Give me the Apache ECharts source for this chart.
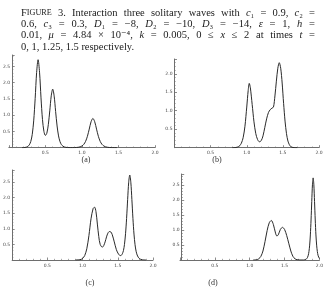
<!DOCTYPE html>
<html>
<head>
  <meta charset="utf-8" />
  <title>Figure 3</title>
  <script src="https://cdn.jsdelivr.net/npm/echarts@6.0.0/dist/echarts.min.js"></script>
  <style>
    html, body { margin: 0; padding: 0; background: #fff; }
  </style>
</head>
<body>
  <div id="main" style="width: 326px;height:300px;"></div>
  <script type="text/javascript">
    // profiles u(x), t = 0, 1, 1.25, 1.5
    var curveA = [[0.18, 0], [0.2, 0.002], [0.22, 0.007], [0.24, 0.018], [0.26, 0.04], [0.28, 0.087], [0.30, 0.191], [0.32, 0.406], [0.34, 0.824], [0.36, 1.509], [0.38, 2.311], [0.40, 2.705], [0.42, 2.322], [0.44, 1.532], [0.46, 0.870], [0.48, 0.499], [0.50, 0.377], [0.52, 0.449], [0.54, 0.708], [0.56, 1.133], [0.58, 1.594], [0.60, 1.80], [0.62, 1.586], [0.64, 1.115], [0.66, 0.668], [0.68, 0.362], [0.70, 0.186], [0.72, 0.093], [0.74, 0.046], [0.76, 0.023], [0.78, 0.011], [0.80, 0.005], [0.84, 0], [0.90, 0.003], [0.95, 0.013], [0.975, 0.026], [1.0, 0.052], [1.025, 0.102], [1.05, 0.194], [1.075, 0.35], [1.1, 0.571], [1.125, 0.798], [1.15, 0.9], [1.175, 0.798], [1.2, 0.571], [1.225, 0.35], [1.25, 0.194], [1.275, 0.102], [1.3, 0.052], [1.325, 0.026], [1.35, 0.013], [1.4, 0.003], [1.48, 0]];
    var curveB = [[0.80, 0], [0.85, 0.005], [0.875, 0.02], [0.90, 0.05], [0.925, 0.12], [0.95, 0.27], [0.975, 0.58], [1.00, 1.10], [1.02, 1.55], [1.035, 1.74], [1.05, 1.62], [1.075, 1.17], [1.10, 0.70], [1.125, 0.38], [1.15, 0.22], [1.175, 0.16], [1.20, 0.19], [1.225, 0.32], [1.25, 0.55], [1.275, 0.78], [1.30, 0.95], [1.325, 1.03], [1.35, 1.07], [1.37, 1.10], [1.39, 1.40], [1.41, 1.80], [1.43, 2.15], [1.45, 2.30], [1.47, 2.15], [1.49, 1.75], [1.51, 1.20], [1.53, 0.72], [1.55, 0.38], [1.57, 0.18], [1.59, 0.08], [1.61, 0.03], [1.64, 0.005], [1.70, 0]];
    var curveC = [[0.90, 0], [0.95, 0.005], [0.98, 0.02], [1.00, 0.05], [1.03, 0.14], [1.06, 0.36], [1.09, 0.78], [1.12, 1.32], [1.15, 1.65], [1.17, 1.69], [1.19, 1.55], [1.21, 1.15], [1.23, 0.75], [1.25, 0.50], [1.28, 0.41], [1.30, 0.46], [1.32, 0.58], [1.34, 0.74], [1.36, 0.86], [1.38, 0.91], [1.40, 0.90], [1.42, 0.82], [1.45, 0.58], [1.48, 0.33], [1.51, 0.19], [1.535, 0.14], [1.55, 0.15], [1.565, 0.20], [1.58, 0.30], [1.595, 0.50], [1.61, 0.84], [1.625, 1.33], [1.64, 1.94], [1.655, 2.49], [1.67, 2.72], [1.685, 2.49], [1.70, 1.94], [1.715, 1.33], [1.73, 0.83], [1.745, 0.49], [1.76, 0.28], [1.775, 0.16], [1.79, 0.09], [1.805, 0.05], [1.82, 0.027], [1.85, 0.008], [1.90, 0]];
    var curveD = [[1.05, 0], [1.10, 0.01], [1.13, 0.04], [1.16, 0.12], [1.19, 0.30], [1.22, 0.62], [1.25, 0.98], [1.28, 1.24], [1.31, 1.32], [1.34, 1.18], [1.37, 0.90], [1.39, 0.80], [1.41, 0.84], [1.44, 1.02], [1.47, 1.09], [1.50, 1.02], [1.53, 0.82], [1.56, 0.56], [1.59, 0.30], [1.62, 0.12], [1.65, 0.04], [1.68, 0.01], [1.72, 0], [1.77, 0], [1.79, 0.008], [1.81, 0.027], [1.83, 0.089], [1.84, 0.16], [1.85, 0.284], [1.86, 0.496], [1.87, 0.836], [1.88, 1.335], [1.89, 1.95], [1.90, 2.51], [1.91, 2.74], [1.92, 2.51], [1.93, 1.95], [1.94, 1.335], [1.95, 0.836], [1.96, 0.496], [1.97, 0.284], [1.98, 0.16], [1.99, 0.089], [2.0, 0.05]];

    var panelNames = ['(a)', '(b)', '(c)', '(d)'];
    var yMax = [2.85, 2.4, 2.88, 2.87];

    // caption, one array of words per printed line; *..* italic, ^..^ small caps
    var capLines = [
      ['F^IGURE^', '3.', 'Interaction', 'three', 'solitary', 'waves', 'with', '*c*₁', '=', '0.9,', '*c*₂', '='],
      ['0.6,', '*c*₃', '=', '0.3,', '*D*₁', '=', '−8,', '*D*₂', '=', '−10,', '*D*₃', '=', '−14,', '*ε*', '=', '1,', '*h*', '='],
      ['0.01,', '*μ*', '=', '4.84', '×', '10⁻⁴,', '*k*', '=', '0.005,', '0', '≤', '*x*', '≤', '2', 'at', 'times', '*t*', '='],
      ['0,', '1,', '1.25,', '1.5', 'respectively.']
    ];

    var myChart = echarts.init(document.getElementById('main'));

    var axisColor = '#6e6e6e', lineColor = '#2a2a2a';
    var capSize = 10.5, capFamily = '"Liberation Serif", "DejaVu Serif", serif';

    // x = 0 sits a little left of the vertical axis in (a) and (d)
    var grids = [
      { left: 7.7, top: 55, width: 147.3, height: 92.7 },
      { left: 174.5, top: 59, width: 144.5, height: 88.7 },
      { left: 11, top: 170, width: 142, height: 90 },
      { left: 180, top: 174, width: 140, height: 86 }
    ];
    var yOffset = [-3.3, 0, 0, -1.7];
    var labelPos = [[86, 160], [217, 160], [90, 283], [213, 283]];

    function tickFmt(v) {
      if (v <= 0 || Math.abs(v * 2 - Math.round(v * 2)) > 1e-6) return '';
      return v.toFixed(1);
    }

    function makeAxis(i, isX) {
      return {
        type: 'value',
        gridIndex: i,
        min: 0,
        max: isX ? 2 : yMax[i],
        interval: 0.5,
        offset: isX ? 0 : yOffset[i],
        axisLine: { show: true, onZero: false, lineStyle: { color: axisColor, width: 1 } },
        axisTick: { show: true, inside: true, length: 2.5, lineStyle: { color: axisColor, width: 0.8 } },
        minorTick: { show: true, splitNumber: 5, length: 1.2, lineStyle: { color: axisColor, width: 0.6 } },
        splitLine: { show: false },
        axisLabel: {
          fontSize: 4.5,
          color: '#444',
          margin: isX ? 3 : 2,
          fontFamily: 'DejaVu Sans',
          formatter: tickFmt
        }
      };
    }

    var curves = [curveA, curveB, curveC, curveD];
    var xAxes = [], yAxes = [], series = [];
    curves.forEach(function (c, i) {
      xAxes.push(makeAxis(i, true));
      yAxes.push(makeAxis(i, false));
      series.push({
        type: 'line',
        xAxisIndex: i,
        yAxisIndex: i,
        data: c,
        showSymbol: false,
        smooth: 0.3,
        lineStyle: { color: lineColor, width: 1 }
      });
    });

    // caption laid out word by word so the first three lines are justified
    var ctx = document.createElement('canvas').getContext('2d');
    function pieces(tok) {
      return tok.split(/(\*[^*]+\*|\^[^^]+\^)/).filter(Boolean).map(function (s) {
        var font = capSize + 'px ' + capFamily, text = s;
        if (s[0] === '*') { text = s.slice(1, -1); font = 'italic ' + capSize + 'px ' + capFamily; }
        else if (s[0] === '^') { text = s.slice(1, -1); font = (capSize * 0.78) + 'px ' + capFamily; }
        ctx.font = font;
        return { text: text, font: font, w: ctx.measureText(text).width };
      });
    }

    var graphics = [];
    var capLeft = 21, capRight = 315;
    capLines.forEach(function (words, li) {
      var toks = words.map(pieces);
      var widths = toks.map(function (p) { return p.reduce(function (s, q) { return s + q.w; }, 0); });
      var total = widths.reduce(function (a, b) { return a + b; }, 0);
      ctx.font = capSize + 'px ' + capFamily;
      var gap = li < 3 ? (capRight - capLeft - total) / (words.length - 1) : ctx.measureText(' ').width;
      var x = capLeft, y = 13 + li * 11.3;
      toks.forEach(function (p, ti) {
        var px = x;
        p.forEach(function (q) {
          graphics.push({
            type: 'text', x: px, y: y + (q.font.indexOf('0.78') >= 0 ? 0.6 : 0),
            style: { text: q.text, font: q.font, fill: '#1a1a1a', textAlign: 'left', textVerticalAlign: 'middle', align: 'left', verticalAlign: 'middle' }
          });
          px += q.w;
        });
        x += widths[ti] + gap;
      });
    });

    panelNames.forEach(function (n, i) {
      graphics.push({
        type: 'text', x: labelPos[i][0], y: labelPos[i][1],
        style: { text: n, font: '8px ' + capFamily, fill: '#333', textAlign: 'center', textVerticalAlign: 'middle', align: 'center', verticalAlign: 'middle' }
      });
    });

    var option = {
      backgroundColor: '#fff',
      animation: false,
      grid: grids,
      xAxis: xAxes,
      yAxis: yAxes,
      series: series,
      graphic: graphics
    };

    myChart.setOption(option);
  </script>
</body>
</html>
